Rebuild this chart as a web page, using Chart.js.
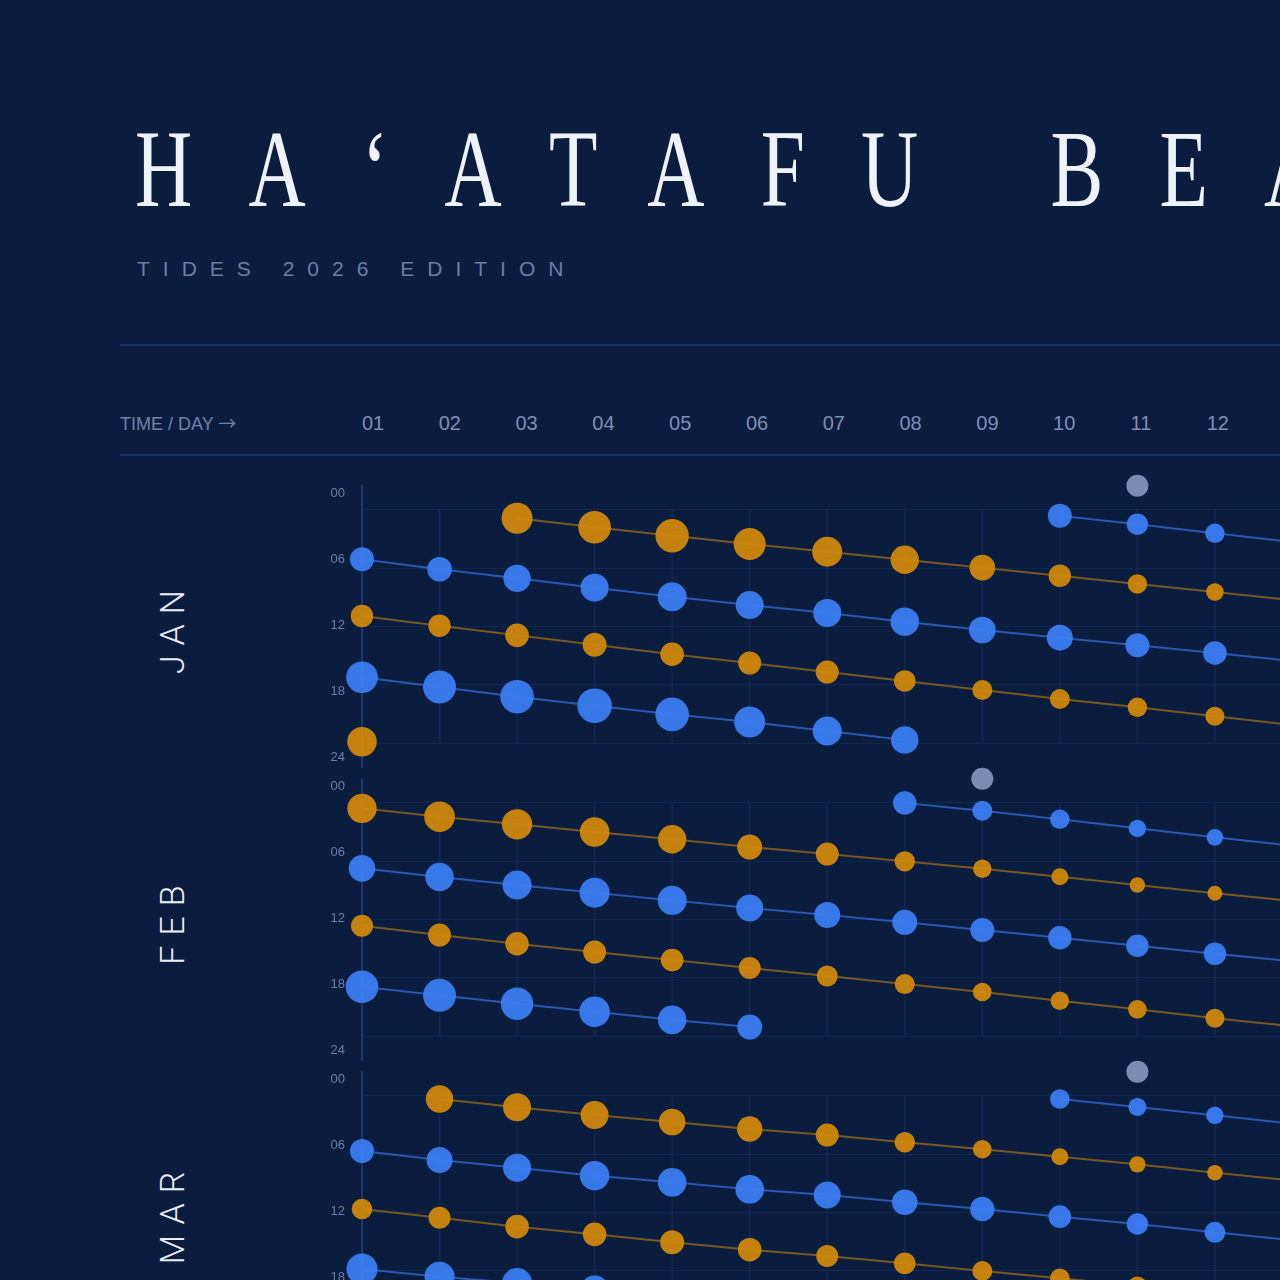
<!DOCTYPE html>
<html>
<head>
<meta charset="utf-8">
<script src="https://cdn.jsdelivr.net/npm/chart.js@4.4.1/dist/chart.umd.min.js"></script>
<style>
html,body{margin:0;padding:0;background:#0b1d3f;}
body{width:1280px;height:1280px;overflow:hidden;position:relative;font-family:"Liberation Sans",Arial,sans-serif;}
.title{position:absolute;left:135px;top:113px;font-family:"Liberation Serif","Times New Roman",serif;font-size:111px;line-height:111px;letter-spacing:78.7px;color:#eef2fb;white-space:nowrap;transform:scaleX(0.714);transform-origin:0 0;}
.sub{position:absolute;left:137px;top:258px;font-size:21px;line-height:21px;letter-spacing:13px;color:#6a7ea6;white-space:nowrap;}
.rule{position:absolute;left:120px;width:1200px;height:2px;background:#1a3464;}
.hdr{position:absolute;left:120px;top:413px;font-size:18px;line-height:18px;color:#7083a9;white-space:nowrap;}
.hdr .arr{font-family:"Noto Sans CJK JP","DejaVu Sans",sans-serif;font-size:18px;}
.day{position:absolute;top:413px;font-size:20px;line-height:20px;color:#7d90b5;transform:translateX(-50%);white-space:nowrap;}
.month{position:absolute;left:172px;font-family:Roboto,"Liberation Sans",sans-serif;font-weight:300;font-size:34px;line-height:34px;letter-spacing:10px;color:#e9eef8;transform:translate(-50%,-50%) rotate(-90deg);white-space:nowrap;}
canvas{position:absolute;}
</style>
</head>
<body>
<div class="title">HAʻATAFU BEACH</div>
<div class="sub">TIDES 2026 EDITION</div>
<div class="rule" style="top:344px"></div>
<div class="hdr">TIME / DAY <span class="arr">→</span></div>
<div class="rule" style="top:454px"></div>
<div id="root"></div>
<script>
// ---- data ----
const DAYS = [1,2,3,4,5,6,7,8,9,10,11,12,13];
const GRID_DAYS = [1,2,3,4,5,6,7,8,9,10,11,12,13,14];
const HEADER_DAYS = ['01','02','03','04','05','06','07','08','09','10','11','12','13','14'];
const TIME_TICKS = [0,6,12,18,24];
const MONTH_LABELS = ['JAN','FEB','MAR'];

// tide times (hour of day) per day; null = no tide of that series that day
const JAN_HIGH_1   = [23.87,null,0.85,1.78,2.65,3.50,4.30,5.12,5.94,6.77,7.62,8.45,9.30];
const JAN_HIGH_1_M = [1.47,null,1.55,1.63,1.67,1.60,1.50,1.42,1.28,1.12,0.97,0.88,0.85];
const JAN_LOW_1    = [5.08,6.11,7.04,8.00,8.93,9.79,10.61,11.50,12.36,13.15,13.94,14.73,15.55];
const JAN_LOW_1_M  = [1.20,1.23,1.37,1.40,1.45,1.40,1.40,1.42,1.33,1.30,1.20,1.18,1.15];
const JAN_HIGH_2   = [10.92,11.92,12.91,13.87,14.86,15.76,16.69,17.61,18.54,19.47,20.32,21.25,22.15];
const JAN_HIGH_2_M = [1.12,1.12,1.18,1.20,1.18,1.15,1.15,1.08,1.00,1.00,0.97,0.95,0.95];
const JAN_LOW_2    = [17.23,18.23,19.23,20.16,21.05,21.84,22.77,23.69,null,0.59,1.47,2.40,3.30];
const JAN_LOW_2_M  = [1.58,1.65,1.68,1.73,1.68,1.55,1.45,1.37,null,1.20,1.07,0.97,0.92];
const JAN_MOON     = [11];

const FEB_HIGH_1   = [0.55,1.41,2.20,2.99,3.74,4.54,5.26,6.01,6.77,7.59,8.45,9.30,10.10];
const FEB_HIGH_1_M = [1.47,1.53,1.52,1.48,1.42,1.25,1.15,1.02,0.92,0.85,0.77,0.75,0.75];
const FEB_LOW_1    = [6.73,7.63,8.45,9.24,10.03,10.82,11.54,12.29,13.08,13.88,14.70,15.53,16.30];
const FEB_LOW_1_M  = [1.33,1.42,1.45,1.50,1.45,1.35,1.30,1.25,1.20,1.17,1.12,1.12,1.10];
const FEB_HIGH_2   = [12.64,13.60,14.50,15.35,16.18,17.00,17.82,18.65,19.47,20.37,21.25,22.18,23.00];
const FEB_HIGH_2_M = [1.10,1.15,1.17,1.15,1.13,1.10,1.05,1.00,0.93,0.93,0.93,0.95,0.95];
const FEB_LOW_2    = [18.93,19.81,20.68,21.50,22.33,23.08,null,0.00,0.80,1.68,2.61,3.54,4.40];
const FEB_LOW_2_M  = [1.63,1.65,1.62,1.53,1.43,1.25,null,1.17,1.00,0.97,0.87,0.83,0.82];
const FEB_MOON     = [9];

const MAR_HIGH_1   = [null,0.31,1.16,1.96,2.68,3.40,4.02,4.77,5.49,6.25,7.04,7.90,8.70];
const MAR_HIGH_1_M = [null,1.37,1.40,1.40,1.33,1.27,1.15,1.03,0.93,0.85,0.82,0.78,0.78];
const MAR_LOW_1    = [5.67,6.59,7.39,8.21,8.89,9.61,10.20,10.95,11.64,12.43,13.18,14.04,14.85];
const MAR_LOW_1_M  = [1.20,1.30,1.40,1.47,1.43,1.43,1.35,1.28,1.22,1.13,1.07,1.05,1.05];
const MAR_HIGH_2   = [11.64,12.54,13.46,14.25,15.07,15.83,16.48,17.23,18.03,18.78,19.57,20.40,21.20];
const MAR_HIGH_2_M = [1.03,1.10,1.18,1.18,1.20,1.18,1.10,1.08,1.00,0.98,0.95,0.95,0.95];
const MAR_LOW_2    = [17.82,18.61,19.26,19.98,20.75,21.50,22.30,23.10,null,0.31,1.13,1.99,2.85];
const MAR_LOW_2_M  = [1.55,1.50,1.50,1.45,1.40,1.35,1.30,1.25,null,0.98,0.90,0.87,0.85];
const MAR_MOON     = [11];

// ---- styles ----
const AMBER = 'rgba(208,136,12,0.94)';
const AMBER_LINE = 'rgba(208,136,12,0.55)';
const BLUE = 'rgba(59,125,242,0.94)';
const BLUE_LINE = 'rgba(59,125,242,0.62)';
const MOON = '#7a8cb1';
const GRID = 'rgba(40,80,150,0.2)';
const AXIS = '#1c3769';
const PX_PER_M = 10;
const MOON_LANE = -2.5;
const Y_PAD_H = 2.472;          // headroom above 00 and below 24 (hours)
const LABEL_MIN = -0.636, LABEL_MAX = 24.909;

const months = [
  {label:MONTH_LABELS[0], tracks:[[JAN_HIGH_1,JAN_HIGH_1_M,AMBER,AMBER_LINE],[JAN_LOW_1,JAN_LOW_1_M,BLUE,BLUE_LINE],[JAN_HIGH_2,JAN_HIGH_2_M,AMBER,AMBER_LINE],[JAN_LOW_2,JAN_LOW_2_M,BLUE,BLUE_LINE]], moon:JAN_MOON},
  {label:MONTH_LABELS[1], tracks:[[FEB_HIGH_1,FEB_HIGH_1_M,AMBER,AMBER_LINE],[FEB_LOW_1,FEB_LOW_1_M,BLUE,BLUE_LINE],[FEB_HIGH_2,FEB_HIGH_2_M,AMBER,AMBER_LINE],[FEB_LOW_2,FEB_LOW_2_M,BLUE,BLUE_LINE]], moon:FEB_MOON},
  {label:MONTH_LABELS[2], tracks:[[MAR_HIGH_1,MAR_HIGH_1_M,AMBER,AMBER_LINE],[MAR_LOW_1,MAR_LOW_1_M,BLUE,BLUE_LINE],[MAR_HIGH_2,MAR_HIGH_2_M,AMBER,AMBER_LINE],[MAR_LOW_2,MAR_LOW_2_M,BLUE,BLUE_LINE]], moon:MAR_MOON}
];

const root = document.getElementById('root');

// day header
HEADER_DAYS.forEach((d,i)=>{
  const s = document.createElement('div');
  s.className='day'; s.textContent=d;
  s.style.left = (373 + i*76.8)+'px';
  document.body.appendChild(s);
});

const PANEL_TOP0 = 486, PANEL_STEP = 293, PANEL_H = 281;
const noPad = s => { s.paddingTop = 0; s.paddingBottom = 0; s.paddingLeft = 0; s.paddingRight = 0; };

months.forEach((m,k)=>{
  const top = PANEL_TOP0 + k*PANEL_STEP;
  const lab = document.createElement('div');
  lab.className='month'; lab.textContent=m.label; lab.style.top=(top+PANEL_H/2)+'px';
  root.appendChild(lab);

  const cv = document.createElement('canvas');
  cv.width=1048; cv.height=PANEL_H+40;
  cv.style.left='322px'; cv.style.top=(top-20)+'px';
  cv.style.width='1048px'; cv.style.height=(PANEL_H+40)+'px';
  root.appendChild(cv);

  const datasets = m.tracks.map(([times,metres,col,lcol])=>({
    type:'line',
    data: times.map((t,i)=>({x:DAYS[i], y:t})),
    borderColor:lcol, borderWidth:2,
    backgroundColor:col, pointBackgroundColor:col, pointBorderWidth:0,
    pointRadius: ctx => metres[ctx.dataIndex]==null ? 0 : metres[ctx.dataIndex]*PX_PER_M,
    pointHoverRadius: ctx => metres[ctx.dataIndex]==null ? 0 : metres[ctx.dataIndex]*PX_PER_M,
    tension:0, spanGaps:false, clip:false, fill:false, order:1
  }));
  datasets.push({
    type:'line',
    data: m.moon.map(d=>({x:d, y:MOON_LANE})),
    showLine:false, pointRadius:11, pointHoverRadius:11, pointBorderWidth:0,
    pointBackgroundColor:MOON, backgroundColor:MOON, borderColor:MOON, clip:false, order:1
  });
  // day columns (vertical guides spanning 00-24)
  datasets.push({
    type:'bar',
    data: GRID_DAYS.map(d=>({x:d, y:[TIME_TICKS[0], TIME_TICKS[TIME_TICKS.length-1]]})),
    backgroundColor:GRID, borderWidth:0, barThickness:1, grouped:false, order:10
  });

  new Chart(cv, {
    type:'line',
    data:{datasets},
    options:{
      responsive:false, animation:false, devicePixelRatio:1, events:[],
      layout:{autoPadding:false, padding:{top:20,bottom:20,left:0,right:0}},
      plugins:{legend:{display:false}, tooltip:{enabled:false}},
      scales:{
        x:{type:'linear',min:1,max:14,offset:false,ticks:{display:false,stepSize:1},grid:{display:false,drawTicks:false},border:{display:false},afterFit:s=>{s.height=0; noPad(s);}},
        y:{type:'linear',position:'left',weight:0,reverse:true,min:-Y_PAD_H,max:24+Y_PAD_H,
           ticks:{display:false},grid:{color:GRID,drawTicks:false},
           border:{display:true,color:AXIS,width:2},
           afterBuildTicks:s=>{s.ticks=TIME_TICKS.map(v=>({value:v}));},
           afterFit:s=>{s.width=0; noPad(s);}},
        yl:{type:'linear',position:'left',weight:1,reverse:true,min:LABEL_MIN,max:LABEL_MAX,
            grid:{display:false,drawTicks:false},border:{display:false},
            ticks:{color:'#6b7fa6',font:{size:13,family:'Liberation Sans'},padding:17,autoSkip:false,
                   callback:v=>String(v).padStart(2,'0')},
            afterBuildTicks:s=>{s.ticks=TIME_TICKS.map(v=>({value:v}));},
            afterFit:s=>{s.width=40; noPad(s);}}
      }
    }
  });
});
</script>
</body>
</html>
